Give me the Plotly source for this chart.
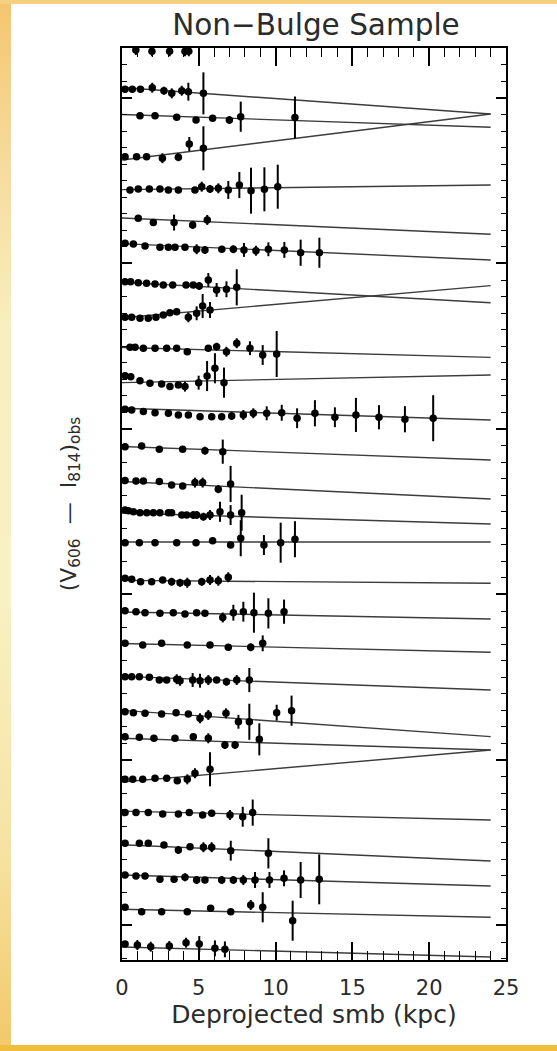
import plotly.graph_objects as go

# Colour profiles: deprojected semi-major-axis radius (kpc), observed V606-I814
# colour (each galaxy shifted by its own offset), and 1-sigma colour error.
r_01 = [0.9, 1.95, 3.1, 4.1, 4.35]
c_01 = [5.29, 5.282, 5.282, 5.282, 5.282]
e_01 = [0.03, 0.03, 0.03, 0.03, 0.03]

r_02 = [0.2, 0.67, 1.2, 1.97, 2.73, 3.24, 3.89, 4.32, 5.3]
c_02 = [5.053, 5.053, 5.053, 5.062, 5.044, 5.028, 5.044, 5.038, 5.028]
e_02 = [0, 0, 0, 0.03, 0.024, 0.03, 0.03, 0.054, 0.127]

r_03 = [1.17, 2.15, 3.56, 4.82, 5.9, 6.99, 7.73, 11.26]
c_03 = [4.893, 4.893, 4.883, 4.867, 4.877, 4.867, 4.887, 4.882]
e_03 = [0, 0, 0, 0, 0, 0.024, 0.091, 0.127]

r_04 = [0.2, 0.95, 1.6, 2.63, 3.67, 4.38, 5.3]
c_04 = [4.645, 4.645, 4.645, 4.636, 4.642, 4.722, 4.696]
e_04 = [0, 0, 0, 0.03, 0.024, 0.042, 0.133]

r_05 = [0.52, 1.06, 1.78, 2.47, 3.02, 3.67, 4.75, 5.19, 5.73, 6.27, 6.92, 7.64, 8.4, 9.27, 10.14]
c_05 = [4.444, 4.45, 4.45, 4.45, 4.444, 4.444, 4.444, 4.464, 4.45, 4.454, 4.444, 4.474, 4.44, 4.448, 4.464]
e_05 = [0, 0, 0, 0, 0, 0, 0, 0.03, 0.024, 0.03, 0.054, 0.079, 0.139, 0.133, 0.133]

r_06 = [1.06, 2.04, 3.39, 4.6, 5.55]
c_06 = [4.273, 4.247, 4.247, 4.233, 4.263]
e_06 = [0, 0, 0.048, 0.024, 0.03]

r_07 = [0.2, 0.74, 1.5, 2.47, 3.02, 3.45, 4.1, 4.86, 5.4, 6.5, 7.25, 7.94, 8.72, 9.53, 10.57, 11.63, 12.85]
c_07 = [4.122, 4.118, 4.106, 4.098, 4.098, 4.098, 4.098, 4.086, 4.082, 4.086, 4.086, 4.082, 4.077, 4.086, 4.082, 4.065, 4.065]
e_07 = [0, 0, 0, 0, 0, 0, 0, 0.03, 0.024, 0, 0.024, 0.042, 0.03, 0.042, 0.048, 0.079, 0.091]

r_08 = [0.2, 0.56, 1.06, 1.6, 2.15, 2.69, 3.3, 4.17, 4.64, 5.03, 5.62, 6.16, 6.8, 7.47]
c_08 = [3.89, 3.89, 3.884, 3.88, 3.876, 3.87, 3.87, 3.87, 3.87, 3.864, 3.9, 3.84, 3.844, 3.856]
e_08 = [0, 0, 0, 0, 0, 0, 0, 0, 0, 0.024, 0.042, 0.042, 0.048, 0.109]

r_09 = [0.2, 0.63, 1.17, 1.71, 2.21, 2.69, 3.12, 3.56, 4.32, 4.86, 5.25, 5.73]
c_09 = [3.675, 3.675, 3.669, 3.669, 3.675, 3.689, 3.703, 3.709, 3.675, 3.699, 3.743, 3.719]
e_09 = [0, 0, 0, 0, 0, 0, 0, 0, 0.03, 0.042, 0.073, 0.048]

r_10 = [0.52, 0.85, 1.39, 2.15, 2.91, 3.56, 4.25, 5.62, 6.16, 6.8, 7.47, 8.33, 9.16, 10.07]
c_10 = [3.494, 3.494, 3.488, 3.488, 3.488, 3.488, 3.467, 3.488, 3.497, 3.467, 3.518, 3.488, 3.447, 3.453]
e_10 = [0, 0, 0, 0, 0, 0, 0, 0, 0.024, 0.03, 0.03, 0.042, 0.06, 0.139]

r_11 = [0.2, 0.57, 1.17, 1.82, 2.58, 3.12, 3.67, 4.1, 4.99, 5.54, 6.05, 6.64]
c_11 = [3.322, 3.316, 3.292, 3.276, 3.272, 3.256, 3.266, 3.256, 3.28, 3.32, 3.367, 3.28]
e_11 = [0, 0, 0, 0, 0, 0, 0, 0.03, 0.042, 0.091, 0.091, 0.091]

r_12 = [0.2, 0.63, 1.39, 2.15, 3.02, 3.67, 4.32, 5.08, 5.84, 6.49, 7.14, 7.9, 8.55, 9.42,
        10.4, 11.4, 12.56, 13.86, 15.23, 16.73, 18.42, 20.26]
c_12 = [3.119, 3.115, 3.105, 3.098, 3.095, 3.085, 3.085, 3.074, 3.074, 3.074, 3.079, 3.085, 3.095, 3.095,
        3.098, 3.065, 3.095, 3.071, 3.085, 3.071, 3.059, 3.065]
e_12 = [0, 0, 0, 0, 0, 0, 0, 0, 0, 0, 0.024, 0.03, 0.03, 0.042,
        0.048, 0.06, 0.079, 0.06, 0.103, 0.073, 0.079, 0.139]

r_13 = [0.2, 1.28, 2.43, 3.95, 5.4, 6.56]
c_13 = [2.893, 2.897, 2.877, 2.877, 2.869, 2.863]
e_13 = [0, 0, 0, 0, 0.024, 0.073]

r_14 = [0.2, 0.91, 1.39, 2.43, 3.23, 3.95, 4.75, 5.25, 6.27, 7.07]
c_14 = [2.688, 2.686, 2.686, 2.682, 2.662, 2.656, 2.676, 2.676, 2.636, 2.668]
e_14 = [0, 0, 0, 0, 0, 0, 0.03, 0.03, 0.024, 0.109]

r_15 = [0.2, 0.41, 0.74, 1.17, 1.61, 2.04, 2.47, 3.02, 3.23, 3.89, 4.21, 4.64, 4.86, 5.3, 5.73, 6.38, 7.07, 7.79]
c_15 = [2.511, 2.506, 2.5, 2.494, 2.494, 2.494, 2.494, 2.494, 2.494, 2.48, 2.48, 2.48, 2.48, 2.47, 2.48, 2.5, 2.48, 2.494]
e_15 = [0, 0, 0, 0, 0, 0, 0, 0, 0, 0, 0, 0.024, 0.024, 0.024, 0.03, 0.06, 0.06, 0.109]

r_16 = [0.2, 1.13, 2.15, 3.56, 4.82, 5.9, 7.07, 7.73, 9.24, 10.33, 11.26]
c_16 = [2.313, 2.313, 2.313, 2.313, 2.313, 2.325, 2.299, 2.34, 2.299, 2.313, 2.334]
e_16 = [0, 0, 0, 0, 0, 0, 0, 0.109, 0.06, 0.121, 0.109]

r_17 = [0.2, 0.63, 1.21, 1.93, 2.65, 3.23, 3.78, 4.25, 5.19, 5.73, 6.27, 6.92]
c_17 = [2.098, 2.092, 2.077, 2.077, 2.088, 2.077, 2.071, 2.071, 2.077, 2.088, 2.083, 2.104]
e_17 = [0, 0, 0, 0, 0, 0.024, 0.024, 0.03, 0.024, 0.03, 0.03, 0.03]

r_18 = [0.2, 0.91, 1.5, 2.47, 3.34, 4.1, 4.86, 5.4, 6.56, 7.25, 7.9, 8.59, 9.53, 10.55]
c_18 = [1.902, 1.896, 1.89, 1.886, 1.89, 1.882, 1.89, 1.886, 1.861, 1.89, 1.896, 1.89, 1.886, 1.896]
e_18 = [0, 0, 0, 0, 0, 0, 0, 0, 0.03, 0.048, 0.06, 0.121, 0.091, 0.073]

r_19 = [0.2, 1.35, 2.58, 4.25, 5.73, 6.92, 8.38, 9.16]
c_19 = [1.705, 1.695, 1.705, 1.695, 1.695, 1.681, 1.681, 1.705]
e_19 = [0, 0, 0, 0, 0, 0, 0.024, 0.048]

r_20 = [0.2, 0.63, 1.13, 1.78, 2.43, 2.91, 3.56, 3.78, 4.6, 5.08, 5.62, 6.16, 6.8, 7.47, 8.29]
c_20 = [1.503, 1.503, 1.503, 1.5, 1.483, 1.483, 1.488, 1.479, 1.483, 1.479, 1.483, 1.483, 1.473, 1.483, 1.483]
e_20 = [0, 0, 0, 0, 0, 0, 0.03, 0.03, 0.042, 0.042, 0.03, 0, 0.024, 0.03, 0.073]

r_21 = [0.2, 0.74, 1.5, 2.58, 3.52, 4.32, 5.08, 5.62, 6.77, 7.58, 8.29, 10.07, 11.04]
c_21 = [1.292, 1.286, 1.282, 1.278, 1.286, 1.278, 1.252, 1.272, 1.282, 1.231, 1.231, 1.286, 1.298]
e_21 = [0, 0, 0, 0, 0, 0, 0.03, 0.03, 0.03, 0.042, 0.109, 0.048, 0.091]

r_22 = [0.2, 1.13, 2.08, 3.45, 4.64, 5.62, 6.7, 7.36, 8.94]
c_22 = [1.141, 1.137, 1.131, 1.131, 1.141, 1.131, 1.091, 1.091, 1.125]
e_22 = [0, 0, 0, 0, 0, 0.03, 0.024, 0.024, 0.097]

r_23 = [0.2, 0.7, 1.35, 2.15, 2.91, 3.6, 4.25, 4.75, 5.73]
c_23 = [0.883, 0.883, 0.883, 0.889, 0.889, 0.875, 0.883, 0.92, 0.944]
e_23 = [0, 0, 0, 0, 0, 0, 0.03, 0.03, 0.103]

r_24 = [0.2, 0.91, 1.71, 2.65, 3.67, 4.38, 5.25, 5.84, 7.03, 7.86, 8.51]
c_24 = [0.682, 0.682, 0.682, 0.674, 0.674, 0.682, 0.668, 0.678, 0.668, 0.657, 0.682]
e_24 = [0, 0, 0, 0, 0, 0, 0, 0, 0.03, 0.06, 0.079]

r_25 = [0.2, 1.13, 1.71, 2.73, 3.67, 4.43, 5.3, 5.84, 7.08, 9.53]
c_25 = [0.497, 0.497, 0.497, 0.486, 0.456, 0.476, 0.473, 0.473, 0.452, 0.436]
e_25 = [0, 0, 0, 0, 0.024, 0, 0.03, 0.03, 0.06, 0.091]

r_26 = [0.2, 0.91, 1.5, 2.47, 3.39, 4.1, 4.86, 5.4, 6.49, 7.25, 7.9, 8.66, 9.6, 10.55, 11.63, 12.84]
c_26 = [0.305, 0.299, 0.299, 0.279, 0.279, 0.291, 0.275, 0.275, 0.275, 0.275, 0.275, 0.275, 0.275, 0.285, 0.275, 0.279]
e_26 = [0, 0, 0, 0, 0, 0.024, 0.024, 0, 0.024, 0.024, 0.03, 0.048, 0.048, 0.048, 0.109, 0.151]

r_27 = [0.2, 1.28, 2.58, 4.25, 5.77, 7.08, 8.38, 9.16, 11.11]
c_27 = [0.11, 0.083, 0.083, 0.083, 0.104, 0.083, 0.124, 0.11, 0.029]
e_27 = [0, 0, 0, 0, 0, 0, 0.03, 0.091, 0.121]

r_28 = [0.2, 1.0, 1.87, 3.08, 4.17, 5.03, 6.05, 6.7]
c_28 = [-0.112, -0.118, -0.128, -0.124, -0.104, -0.112, -0.138, -0.144]
e_28 = [0, 0.03, 0.03, 0.03, 0.03, 0.048, 0.048, 0.048]

# Linear colour-gradient fits: colour = FIT_INTERCEPT + FIT_SLOPE * r
FIT_INTERCEPT = [None, 5.063, 4.900, 4.625, 4.446, 4.275, 4.120, 3.887, 3.672, 3.492,
                 3.280, 3.125, 2.894, 2.683, 2.492, 2.317, 2.085, 1.894, 1.704, 1.505,
                 1.300, 1.131, 0.867, 0.691, 0.488, 0.305, 0.098, -0.130]
FIT_SLOPE = [None, -0.00667, -0.0032, 0.01158, 0.00117, -0.00408, -0.00413, -0.00517, 0.00808, -0.00246,
             0.00192, -0.00295, -0.00338, -0.00442, -0.00275, 0.0, -0.0007, -0.00175, -0.00221, -0.00342,
             -0.00663, -0.00296, 0.00804, -0.00225, -0.0041, -0.00277, -0.00202, -0.0025]
FIT_RMAX = 24.0

X_TICKS = [0, 5, 10, 15, 20, 25]

PROFILES = [
    (r_01, c_01, e_01), (r_02, c_02, e_02), (r_03, c_03, e_03), (r_04, c_04, e_04),
    (r_05, c_05, e_05), (r_06, c_06, e_06), (r_07, c_07, e_07), (r_08, c_08, e_08),
    (r_09, c_09, e_09), (r_10, c_10, e_10), (r_11, c_11, e_11), (r_12, c_12, e_12),
    (r_13, c_13, e_13), (r_14, c_14, e_14), (r_15, c_15, e_15), (r_16, c_16, e_16),
    (r_17, c_17, e_17), (r_18, c_18, e_18), (r_19, c_19, e_19), (r_20, c_20, e_20),
    (r_21, c_21, e_21), (r_22, c_22, e_22), (r_23, c_23, e_23), (r_24, c_24, e_24),
    (r_25, c_25, e_25), (r_26, c_26, e_26), (r_27, c_27, e_27), (r_28, c_28, e_28),
]

W, H = 557, 1051
ML, MR, MT, MB = 122, 51, 48, 91
FONT = "DejaVu Sans"
INK = "#2b2b2b"

fig = go.Figure()

# fitted gradients first so the points sit on top of them
for a, b in zip(FIT_INTERCEPT, FIT_SLOPE):
    if a is None:
        continue
    fig.add_trace(go.Scatter(
        x=[0.0, FIT_RMAX], y=[a, a + b * FIT_RMAX], mode="lines",
        line=dict(color="#3c3c3c", width=1.4), hoverinfo="skip", showlegend=False))

for r, c, e in PROFILES:
    fig.add_trace(go.Scatter(
        x=r, y=c, mode="markers",
        marker=dict(symbol="circle", size=7.5, color="black"),
        error_y=dict(type="data", array=e, visible=True, color="black", thickness=2, width=0),
        showlegend=False))

# page decoration: pale gold frame with a soft vertical gradient on the left edge
PW, PH = W - ML - MR, H - MT - MB


def px_x(px):
    return (px - ML) / PW


def px_y(py):
    return (H - MB - py) / PH


def hex_rgb(h):
    h = h.lstrip("#")
    return tuple(int(h[i:i + 2], 16) for i in (0, 2, 4))


STOPS = [(0, "#f4c56f"), (120, "#f6d692"), (330, "#f8efc0"), (600, "#f8f1c4"),
         (850, "#f6e3a2"), (1051, "#f2c86a")]


def strip_colour(py):
    for (y0, c0), (y1, c1) in zip(STOPS[:-1], STOPS[1:]):
        if y0 <= py <= y1:
            t = (py - y0) / (y1 - y0)
            a, b = hex_rgb(c0), hex_rgb(c1)
            return "rgb(%d,%d,%d)" % tuple(round(a[i] + (b[i] - a[i]) * t) for i in range(3))
    return STOPS[-1][1]


shapes = []
step = 8
for y in range(0, H, step):
    shapes.append(dict(type="rect", xref="paper", yref="paper", layer="below",
                       x0=px_x(0), x1=px_x(11), y0=px_y(y + step), y1=px_y(y),
                       fillcolor=strip_colour(y + step / 2), line=dict(width=0)))
shapes.append(dict(type="rect", xref="paper", yref="paper", layer="below",
                   x0=px_x(0), x1=px_x(W), y0=px_y(4), y1=px_y(0),
                   fillcolor="#f5d07e", line=dict(width=0)))
shapes.append(dict(type="rect", xref="paper", yref="paper", layer="below",
                   x0=px_x(0), x1=px_x(W), y0=px_y(H), y1=px_y(1045),
                   fillcolor="#f0bd3c", line=dict(width=0)))

axis_common = dict(showgrid=False, zeroline=False, showline=True, linecolor="black",
                   linewidth=1.6, mirror="allticks", ticks="inside", tickcolor="black")

fig.update_layout(
    width=W, height=H,
    margin=dict(l=ML, r=MR, t=MT, b=MB, pad=0),
    paper_bgcolor="white", plot_bgcolor="white",
    font=dict(family=FONT, color=INK),
    shapes=shapes,
    title=dict(text="Non\u2212Bulge Sample", x=px_x(316), xref="paper", xanchor="center",
               y=1 - 25 / H, yanchor="middle", font=dict(size=29.5, color=INK)),
    xaxis=dict(range=[0, 25], tickvals=X_TICKS, ticktext=[str(v) for v in X_TICKS],
               ticklen=18, tickwidth=1.5,
               minor=dict(dtick=1, tick0=0, ticklen=9, tickwidth=1.4, ticks="inside", tickcolor="black"),
               tickfont=dict(size=21, color=INK), ticklabelstandoff=8,
               title=dict(text="Deprojected smb (kpc)", font=dict(size=25, color=INK), standoff=5),
               **axis_common),
    yaxis=dict(range=[-0.2085, 5.302], tick0=0, dtick=1, ticklen=10, tickwidth=1.5,
               minor=dict(dtick=0.1, tick0=0, ticklen=5, tickwidth=1.4, ticks="inside", tickcolor="black"),
               showticklabels=False,
               title=dict(text="(V<sub>606</sub>  \u2014  I<sub>814</sub>)<sub>obs</sub>",
                          font=dict(size=22, color=INK), standoff=38),
               **axis_common),
)

fig.write_html("out.html")
